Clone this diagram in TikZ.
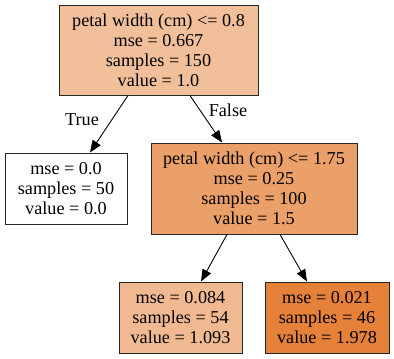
\documentclass[tikz,border=0pt]{standalone}
\usepackage{fontspec}
\setmainfont{Liberation Serif}
\usetikzlibrary{arrows.meta}
\definecolor{cRoot}{RGB}{242,191,155}
\definecolor{cMid}{RGB}{235,160,105}
\definecolor{cBL}{RGB}{241,185,146}
\definecolor{cBR}{RGB}{229,129,57}
\definecolor{cBorder}{RGB}{40,40,40}
\tikzset{
  box/.style={draw=cBorder, line width=1pt, rectangle, align=center, inner sep=0pt,
    font=\fontsize{18.2}{20}\selectfont},
  edge/.style={draw=black, line width=0.9pt, -{Triangle[length=12pt,width=9.5pt]}},
  lbl/.style={font=\fontsize{18.2}{20}\selectfont, inner sep=0pt}
}
\begin{document}
\begin{tikzpicture}[x=1pt,y=-1pt]
\useasboundingbox (0,0) rectangle (394,359);
\node[box, fill=cRoot, minimum width=199pt, minimum height=90pt] (root) at (158.5,50)
  {petal width (cm) <= 0.8\\mse = 0.667\\samples = 150\\value = 1.0};
\node[box, fill=white, minimum width=122pt, minimum height=71pt] (leaf) at (66,188.5)
  {mse = 0.0\\samples = 50\\value = 0.0};
\node[box, fill=cMid, minimum width=206pt, minimum height=91pt] (mid) at (254,188.5)
  {petal width (cm) <= 1.75\\mse = 0.25\\samples = 100\\value = 1.5};
\node[box, fill=cBL, minimum width=123pt, minimum height=71pt] (bl) at (180.5,317.5)
  {mse = 0.084\\samples = 54\\value = 1.093};
\node[box, fill=cBR, minimum width=124pt, minimum height=71pt] (br) at (327,317.5)
  {mse = 0.021\\samples = 46\\value = 1.978};
\draw[edge] ([xshift=-30.5pt]root.south) -- ([xshift=24pt]leaf.north);
\draw[edge] ([xshift=31.5pt]root.south) -- ([xshift=-32pt]mid.north);
\draw[edge] ([xshift=-27pt]mid.south) -- ([xshift=20.5pt]bl.north);
\draw[edge] ([xshift=26pt]mid.south) -- ([xshift=-20pt]br.north);
\node[lbl] (ltrue) at (82,120) {True};
\node[lbl] (lfalse) at (228,110) {False};
\end{tikzpicture}
\end{document}
